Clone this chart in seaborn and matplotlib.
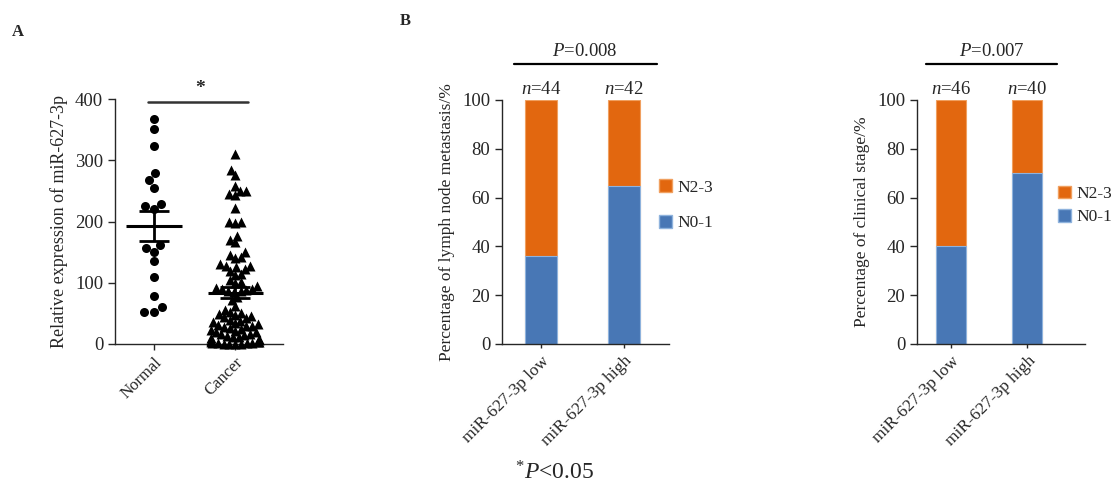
import numpy as np
import pandas as pd
import seaborn as sns
from matplotlib import pyplot as plt
from matplotlib.patches import Patch

# panel A: relative expression of miR-627-3p
groups_a = ["Normal", "Cancer"]
normal = [368, 351, 324, 279, 267, 254, 229, 226, 220, 161, 157, 150, 135, 110, 79, 60, 52, 52]
cancer = [311, 284, 276, 258, 250, 249, 245, 243, 222, 200, 199, 197, 177, 170, 166,
          150, 145, 142, 140, 130, 128, 127, 125, 122, 120, 114, 112, 105, 102, 100,
          94, 92, 90, 89, 88, 87, 86, 85, 76, 72, 62, 56, 53, 50,
          49, 47, 45, 44, 42, 40, 38, 36, 34, 33, 31, 30,
          29, 28, 26, 25, 23, 22, 20, 19, 17, 16, 14, 13, 12, 11, 10,
          8, 7, 6, 5, 4, 4, 3, 2, 2, 1, 1, 0, 0, 0, 0]

# panel B: percentages of N0-1 (rest is N2-3)
expr_groups = ["miR-627-3p low", "miR-627-3p high"]
lymph_n01 = [36.2, 64.9]
lymph_n = [44, 42]
lymph_p = "0.008"
stage_n01 = [40.2, 70.0]
stage_n = [46, 40]
stage_p = "0.007"

BLUE = "#4877b5"
ORANGE = "#e2670f"

sns.set_theme(style="ticks")
plt.rcParams["font.family"] = ["Liberation Serif", "DejaVu Serif"]
plt.rcParams["mathtext.fontset"] = "custom"
plt.rcParams["mathtext.rm"] = "Liberation Serif"
plt.rcParams["mathtext.it"] = "Liberation Serif:italic"
plt.rcParams["axes.linewidth"] = 1.0
plt.rcParams["xtick.major.width"] = 1.0
plt.rcParams["ytick.major.width"] = 1.0

W, H = 1116, 486
fig = plt.figure(figsize=(W / 100, H / 100), dpi=100)


def px_axes(left, right, top, bottom):
    return fig.add_axes([left / W, 1 - bottom / H, (right - left) / W, (bottom - top) / H])


# ---------- panel A ----------
ax = px_axes(115, 283, 99, 344)
df_a = pd.DataFrame({
    "group": ["Normal"] * len(normal) + ["Cancer"] * len(cancer),
    "value": normal + cancer,
})
sns.swarmplot(data=df_a[df_a.group == "Normal"], x="group", y="value", order=groups_a,
              marker="o", color="black", size=6.5, linewidth=0, ax=ax, warn_thresh=1)
sns.swarmplot(data=df_a[df_a.group == "Cancer"], x="group", y="value", order=groups_a,
              marker="^", color="black", size=5.3, linewidth=0, ax=ax, warn_thresh=1)
ax.set_ylim(0, 400)
ax.set_xlim(-0.48, 1.59)

# lay the cancer swarm out, freeze it, squeeze it a bit and enlarge the
# markers so they overlap the way they do in the original figure
fig.canvas.draw()
cancer_pts = ax.collections[-1]
cancer_pts.__dict__.pop("draw", None)
offs = np.array(cancer_pts.get_offsets())
offs[:, 0] = 1 + (offs[:, 0] - 1) * 0.75
cancer_pts.set_offsets(offs)
cancer_pts.set_sizes([7.2 ** 2])
for c in ax.collections:
    c.set_clip_on(False)

for i, vals in enumerate([normal, cancer]):
    v = np.array(vals, dtype=float)
    m = v.mean()
    sem = v.std(ddof=1) / np.sqrt(len(v))
    ax.hlines(m, i - 0.34, i + 0.34, color="black", lw=2.2, zorder=5)
    ax.errorbar(i, m, yerr=sem, color="black", capsize=11, elinewidth=2,
                capthick=2, fmt="none", zorder=5)

ax.set_yticks([0, 100, 200, 300, 400])
ax.set_xlabel("")
ax.set_ylabel("Relative expression of miR-627-3p", fontsize=13, labelpad=5)
ax.tick_params(axis="y", labelsize=13.5, length=5, direction="out")
ax.tick_params(axis="x", labelsize=12, length=4, direction="out")
plt.setp(ax.get_xticklabels(), rotation=45, ha="right", rotation_mode="anchor")
sns.despine(ax=ax)
ax.plot([-0.07, 1.16], [395, 395], color="#333333", lw=1.8, clip_on=False)
ax.text(0.57, 404, "*", ha="center", va="bottom", fontsize=14, fontweight="bold")


# ---------- panel B ----------
def stacked_panel(ax, n01, ns, pval, ylabel, xlim, legend_x, legend_sp):
    totals = [100.0] * len(n01)
    sns.barplot(x=expr_groups, y=totals, color=ORANGE, width=0.39, saturation=1,
                edgecolor="#f0a060", linewidth=0.8, ax=ax)
    sns.barplot(x=expr_groups, y=n01, color=BLUE, width=0.39, saturation=1,
                edgecolor="#8fb3dd", linewidth=0.8, ax=ax)
    ax.set_ylim(0, 100)
    ax.set_xlim(*xlim)
    ax.set_yticks([0, 20, 40, 60, 80, 100])
    ax.set_ylabel(ylabel, fontsize=12.5, labelpad=5)
    ax.tick_params(axis="y", labelsize=13.5, length=5, direction="out")
    ax.tick_params(axis="x", labelsize=12.5, length=3, direction="out")
    plt.setp(ax.get_xticklabels(), rotation=45, ha="right", rotation_mode="anchor")
    sns.despine(ax=ax)
    for i, n in enumerate(ns):
        ax.text(i, 100.8, r"$\mathit{n}$=%d" % n, ha="center", va="bottom", fontsize=13.5)
    ax.plot([-0.33, 1.39], [114.8, 114.8], color="black", lw=1.6, clip_on=False)
    ax.text(0.53, 116.5, r"$\mathit{P}$=" + pval, ha="center", va="bottom", fontsize=13.5)
    handles = [Patch(facecolor=ORANGE, edgecolor="#f0a060", label="N2-3"),
               Patch(facecolor=BLUE, edgecolor="#8fb3dd", label="N0-1")]
    ax.legend(handles=handles, loc="center left", bbox_to_anchor=(legend_x, 0.568),
              frameon=False, fontsize=12.5, handlelength=0.75, handleheight=0.75,
              handletextpad=0.3, labelspacing=legend_sp, borderaxespad=0, borderpad=0)


ax1 = px_axes(502, 669, 100, 344)
stacked_panel(ax1, lymph_n01, lymph_n, lymph_p,
              "Percentage of lymph node metastasis/%", (-0.47, 1.54), 0.94, 1.1)

ax2 = px_axes(917, 1085, 100, 344)
stacked_panel(ax2, stage_n01, stage_n, stage_p,
              "Percentage of clinical stage/%", (-0.45, 1.76), 0.84, 0.4)

fig.text(12 / W, 1 - 32 / H, "A", fontsize=12, fontweight="bold", ha="left", va="center")
fig.text(400 / W, 1 - 21 / H, "B", fontsize=12, fontweight="bold", ha="left", va="center")
fig.text(555 / W, 1 - 473 / H, r"$^{*}\mathit{P}$<0.05", fontsize=17, ha="center", va="center")

fig.savefig("out.png", dpi=100)
